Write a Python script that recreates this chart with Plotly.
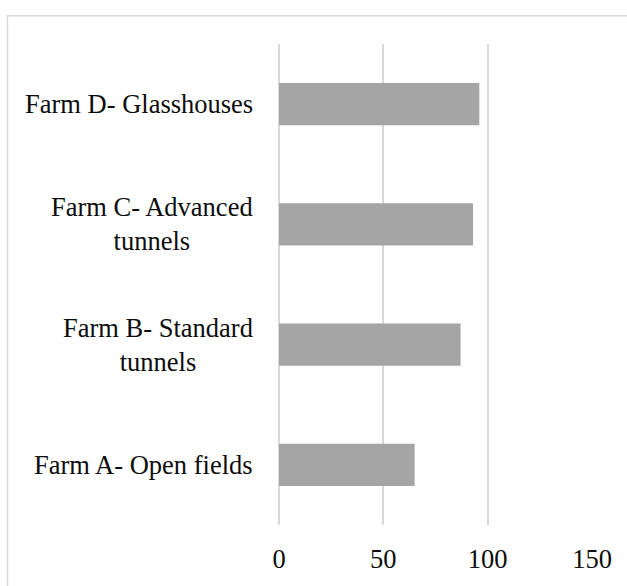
import plotly.graph_objects as go

# ---------------------------------------------------------------------------
# Data
# ---------------------------------------------------------------------------
farms = [
    "Farm A- Open fields",
    "Farm B- Standard<br>tunnels",
    "Farm C- Advanced<br>tunnels",
    "Farm D- Glasshouses",
]
values = [65, 87, 93, 96]
x_ticks = [0, 50, 100, 150]

COLOR_BAR = "#a5a5a5"
COLOR_GRID = "#d9d9d9"
COLOR_TEXT = "#0d0d0d"
FONT = "Liberation Serif, Times New Roman, serif"
FONT_SIZE = 26.5

fig = go.Figure()

fig.add_trace(
    go.Bar(
        x=values,
        y=list(range(len(farms))),
        orientation="h",
        marker=dict(color=COLOR_BAR, line=dict(width=0)),
        hoverinfo="x",
    )
)

# Category labels as annotations so multi-line labels are centred
for i, label in enumerate(farms):
    fig.add_annotation(
        x=-0.077, xref="paper", xanchor="right",
        y=i, yref="y", yanchor="middle",
        text=label, showarrow=False, align="center",
        font=dict(family=FONT, size=FONT_SIZE, color=COLOR_TEXT),
    )

# Chart-area border (cropped on the right and bottom in the source)
fig.add_shape(
    type="rect", xref="paper", yref="paper",
    x0=-0.8674, x1=1.3, y0=-0.3, y1=1.0589,
    line=dict(color=COLOR_GRID, width=1.5),
    fillcolor="rgba(0,0,0,0)", layer="below",
)

fig.update_layout(
    width=627,
    height=586,
    paper_bgcolor="white",
    plot_bgcolor="white",
    bargap=0.65,
    showlegend=False,
    margin=dict(l=279, r=35, t=44, b=58),
    font=dict(family=FONT, size=FONT_SIZE, color=COLOR_TEXT),
)
fig.update_xaxes(
    range=[0, 150],
    tickvals=x_ticks,
    showgrid=True, gridcolor=COLOR_GRID, gridwidth=1.5,
    zeroline=True, zerolinecolor=COLOR_GRID, zerolinewidth=1.5,
    showline=False,
    ticks="outside", ticklen=10, tickcolor="rgba(0,0,0,0)",
    tickfont=dict(family=FONT, size=FONT_SIZE, color=COLOR_TEXT),
    fixedrange=True,
)
fig.update_yaxes(
    range=[-0.5, 3.5],
    showticklabels=False, showgrid=False, zeroline=False, showline=False,
    fixedrange=True,
)

# drop the default page margin so the figure fills the window exactly
fig.write_html(
    "out.html",
    config={"displayModeBar": False},
    post_script="document.body.style.margin='0';document.body.style.overflow='hidden';",
)
